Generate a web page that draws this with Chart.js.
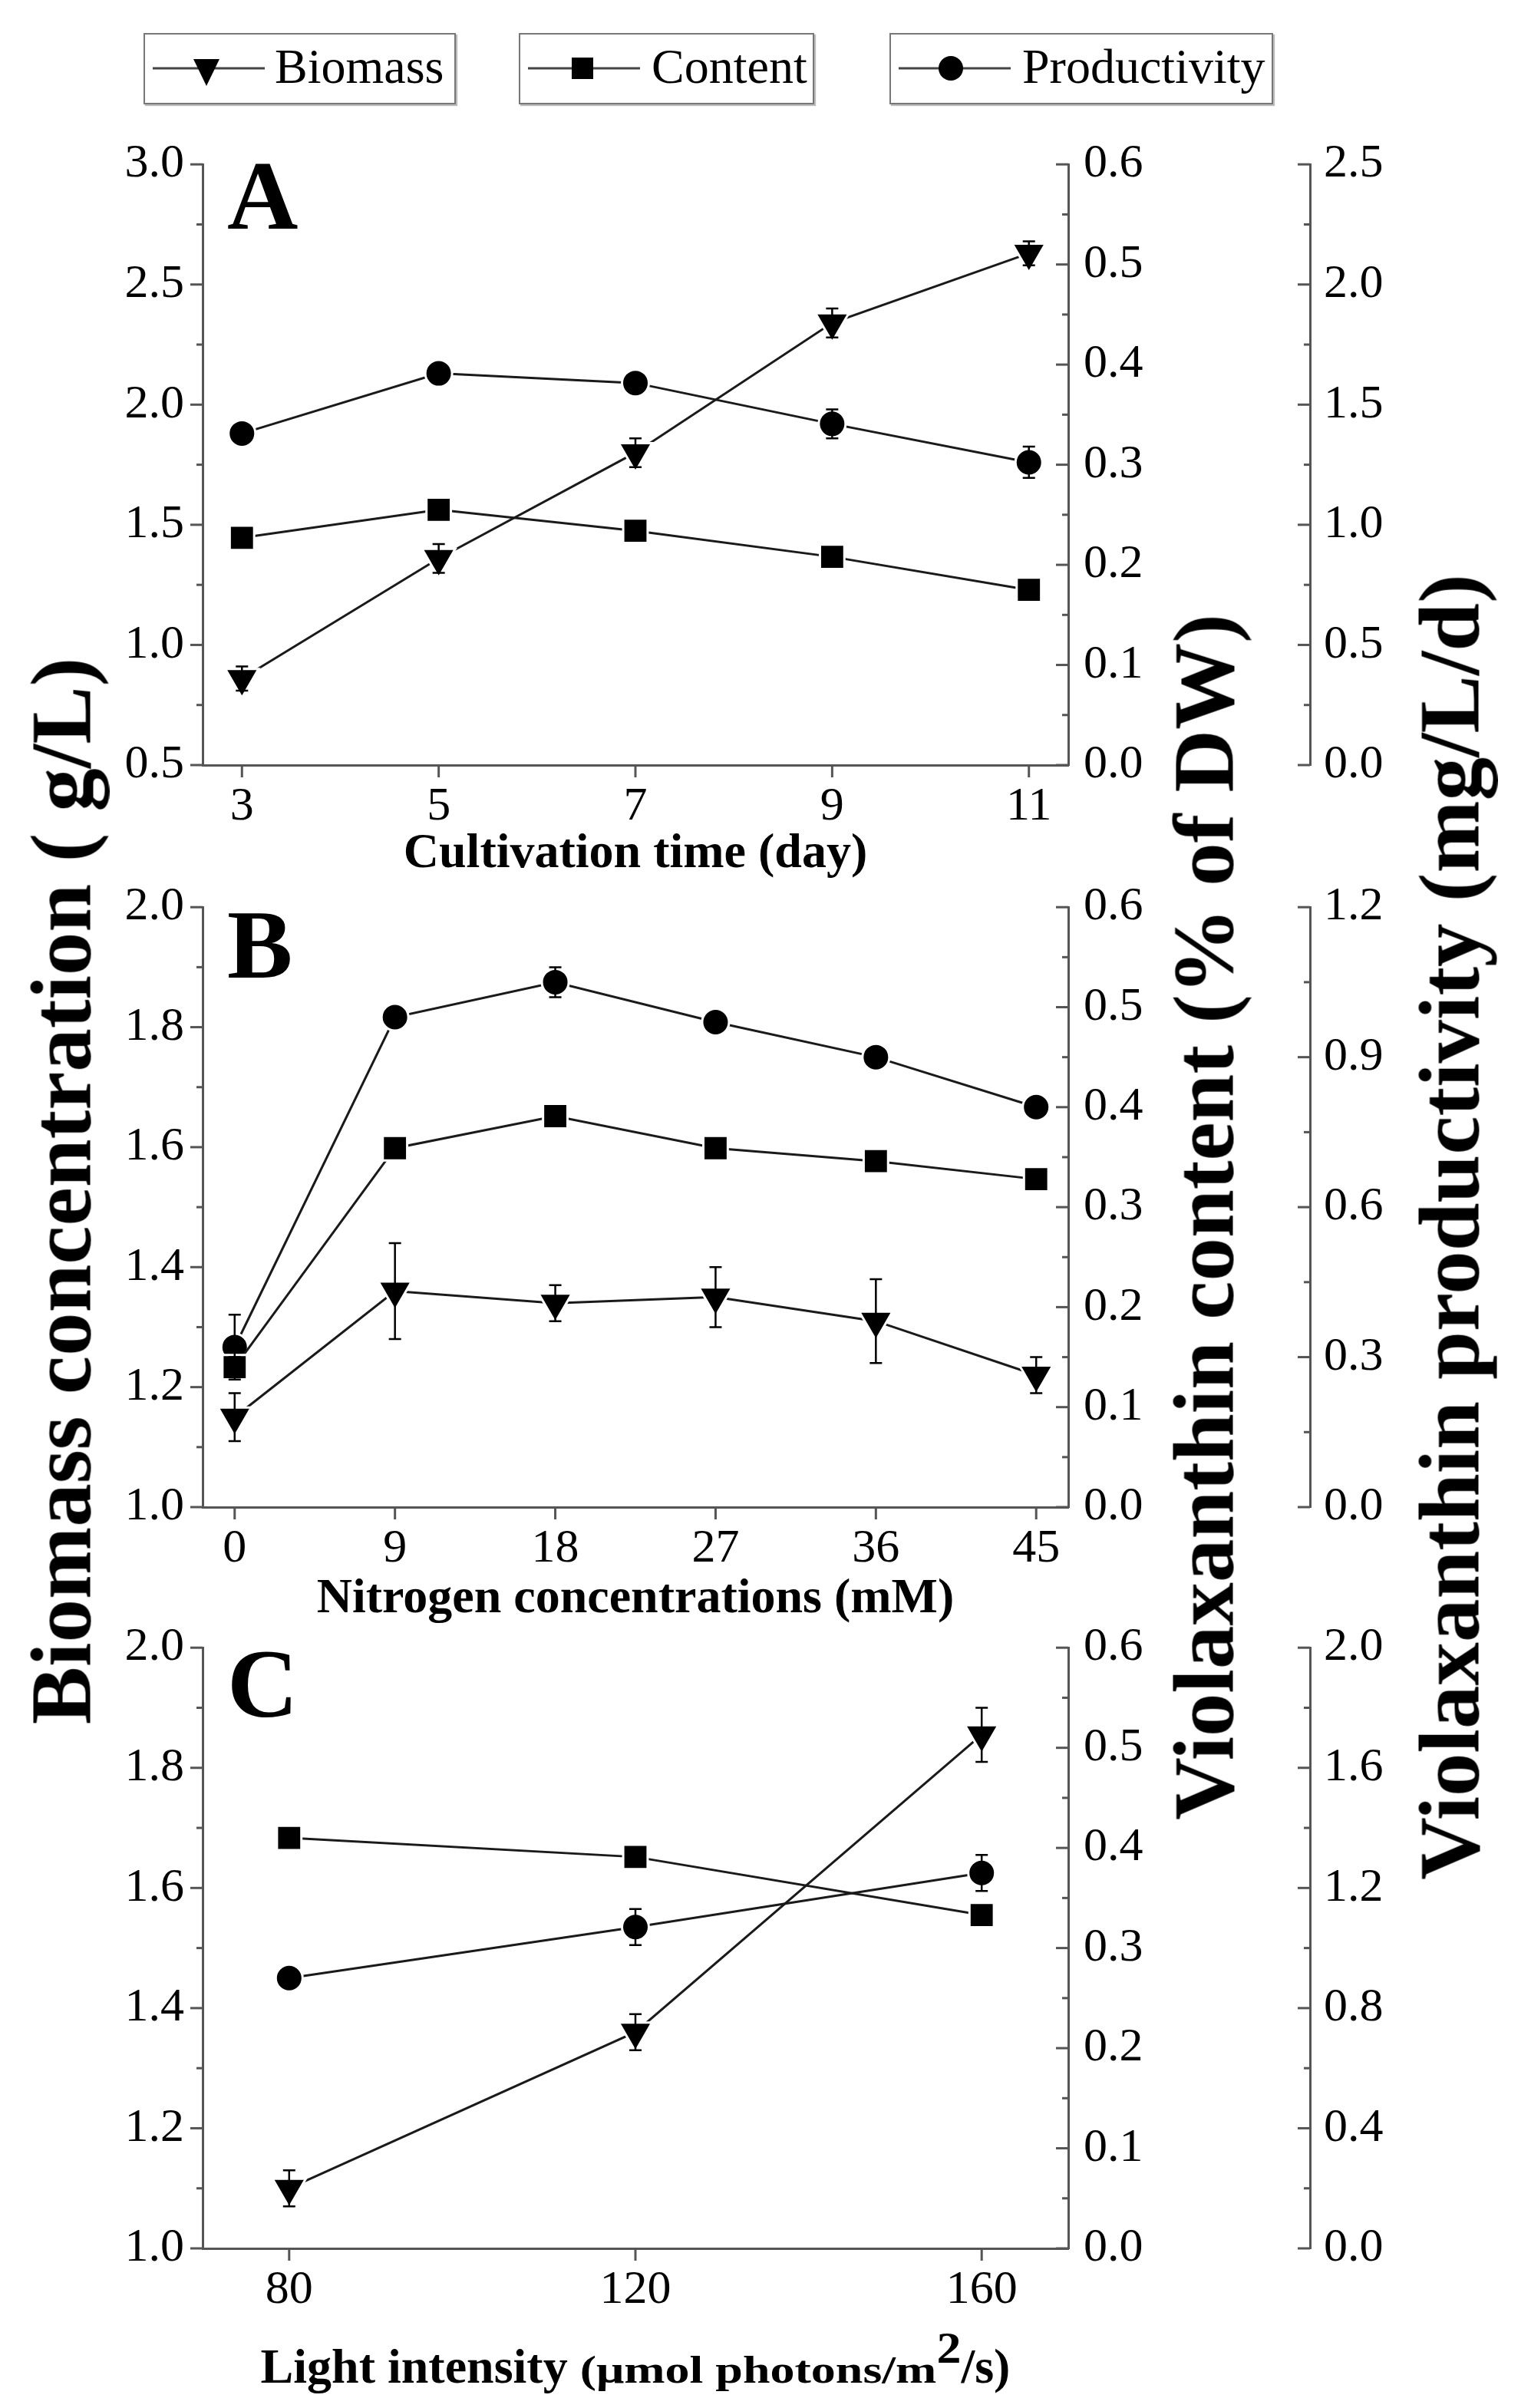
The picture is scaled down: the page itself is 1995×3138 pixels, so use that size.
<!DOCTYPE html>
<html>
<head>
<meta charset="utf-8">
<script src="https://cdn.jsdelivr.net/npm/chart.js@4.4.1/dist/chart.umd.min.js"></script>
<style>
html, body { margin: 0; padding: 0; background: #fff; }
body { width: 1995px; height: 3138px; position: relative; overflow: hidden; font-family: "Liberation Serif", "Times New Roman", serif; }
canvas { position: absolute; left: 0; }
.legend-box { position: absolute; top: 43px; height: 93px; box-sizing: border-box; border: 2px solid #777; box-shadow: 2px 2px 1px #bbb; background: #fff; }
.legend-box svg { position: absolute; left: 8px; top: 0; }
.legend-box span { position: absolute; left: 169px; top: 10px; font-size: 64px; line-height: 1; white-space: nowrap; color: #000; }
.ytitle { position: absolute; font-weight: bold; font-size: 113px; line-height: 1; white-space: nowrap; color: #000; transform: translate(-50%, -50%) rotate(-90deg); }
</style>
</head>
<body>

<div class="legend-box" style="left:187px; width:407px;">
  <svg width="150" height="89"><line x1="2" y1="44" x2="148" y2="44" stroke="#444" stroke-width="3"/><polygon points="55,32 89,32 72,67" fill="#000"/></svg>
  <span>Biomass</span>
</div>
<div class="legend-box" style="left:676px; width:385px;">
  <svg width="150" height="89"><line x1="2" y1="44" x2="148" y2="44" stroke="#444" stroke-width="3"/><rect x="59" y="30" width="28" height="28" fill="#000"/></svg>
  <span style="left:171px">Content</span>
</div>
<div class="legend-box" style="left:1159px; width:500px;">
  <svg width="150" height="89"><line x1="2" y1="44" x2="148" y2="44" stroke="#444" stroke-width="3"/><circle cx="70" cy="44" r="16" fill="#000"/></svg>
  <span style="left:171px">Productivity</span>
</div>

<canvas id="chartA"></canvas>
<canvas id="chartB"></canvas>
<canvas id="chartC"></canvas>

<div class="ytitle" style="left:79px; top:1552px;">Biomass concentration ( g/L)</div>
<div class="ytitle" style="left:1568px; top:1586px;">Violaxanthin content (% of DW)</div>
<div class="ytitle" style="left:1888px; top:1599px;">Violaxanthin productivity (mg/L/d)</div>

<script>
// ---- panel A: cultivation time ----
const daysA = [3, 5, 7, 9, 11];
const biomassA = [0.86, 1.36, 1.80, 2.34, 2.63];
const biomassErrA = [0.05, 0.06, 0.06, 0.06, 0.05];
const contentA = [0.227, 0.255, 0.234, 0.208, 0.175];
const contentErrA = [0, 0, 0, 0, 0];
const prodA = [1.38, 1.63, 1.59, 1.42, 1.26];
const prodErrA = [0.03, 0.03, 0.03, 0.06, 0.065];

// ---- panel B: nitrogen concentration ----
const nitrogenB = [0, 9, 18, 27, 36, 45];
const biomassB = [1.15, 1.36, 1.34, 1.35, 1.31, 1.22];
const biomassErrB = [0.04, 0.08, 0.03, 0.05, 0.07, 0.03];
const contentB = [0.14, 0.359, 0.391, 0.359, 0.346, 0.328];
const contentErrB = [0.01, 0, 0, 0, 0, 0];
const prodB = [0.32, 0.98, 1.05, 0.97, 0.90, 0.80];
const prodErrB = [0.065, 0, 0.03, 0, 0, 0];

// ---- panel C: light intensity ----
const lightC = [80, 120, 160];
const biomassC = [1.10, 1.36, 1.855];
const biomassErrC = [0.03, 0.03, 0.045];
const contentC = [0.41, 0.391, 0.333];
const contentErrC = [0, 0, 0];
const prodC = [0.90, 1.07, 1.25];
const prodErrC = [0.02, 0.06, 0.06];

// ---- tick labels ----
const biomassTicksA = [0.5, 1.0, 1.5, 2.0, 2.5, 3.0];
const biomassTicksBC = [1.0, 1.2, 1.4, 1.6, 1.8, 2.0];
const contentTicks = [0.0, 0.1, 0.2, 0.3, 0.4, 0.5, 0.6];
const prodTicksA = [0.0, 0.5, 1.0, 1.5, 2.0, 2.5];
const prodTicksB = [0.0, 0.3, 0.6, 0.9, 1.2];
const prodTicksC = [0.0, 0.4, 0.8, 1.2, 1.6, 2.0];

const AXIS_COLOR = '#555';
const LINE_COLOR = '#1a1a1a';
const FONT = '"Liberation Serif", "Times New Roman", serif';

// major/minor tick marks, all vertical axes tick to the left
const axisTicks = {
    id: 'axisTicks',
    afterDraw(chart) {
        const ctx = chart.ctx;
        ctx.save();
        ctx.strokeStyle = AXIS_COLOR;
        ctx.lineWidth = 3;
        Object.values(chart.scales).forEach(scale => {
            const vals = scale.ticks.map(t => t.value);
            const minors = scale.isHorizontal() ? [] : vals.slice(1).map((v, i) => (v + vals[i]) / 2);
            const mark = (v, len) => {
                const p = scale.getPixelForValue(v);
                ctx.beginPath();
                if (scale.isHorizontal()) {
                    ctx.moveTo(p, scale.top);
                    ctx.lineTo(p, scale.top + len);
                } else {
                    const x0 = scale.position === 'left' ? scale.right : scale.left;
                    ctx.moveTo(x0, p);
                    ctx.lineTo(x0 - len, p);
                }
                ctx.stroke();
            };
            vals.forEach(v => mark(v, 16));
            minors.forEach(v => mark(v, 8));
        });
        ctx.restore();
    }
};

// vertical error bars with caps, taken from dataset.errors
const errorBars = {
    id: 'errorBars',
    afterDatasetsDraw(chart) {
        const ctx = chart.ctx;
        ctx.save();
        ctx.strokeStyle = '#000';
        ctx.lineWidth = 2.5;
        chart.data.datasets.forEach((ds, di) => {
            const meta = chart.getDatasetMeta(di);
            const yScale = chart.scales[ds.yAxisID];
            meta.data.forEach((pt, i) => {
                const err = ds.errors[i];
                if (!err) return;
                const v = ds.data[i].y;
                const yTop = yScale.getPixelForValue(v + err);
                const yBot = yScale.getPixelForValue(v - err);
                ctx.beginPath();
                ctx.moveTo(pt.x, yTop); ctx.lineTo(pt.x, yBot);
                ctx.moveTo(pt.x - 8, yTop); ctx.lineTo(pt.x + 8, yTop);
                ctx.moveTo(pt.x - 8, yBot); ctx.lineTo(pt.x + 8, yBot);
                ctx.stroke();
            });
        });
        ctx.restore();
    }
};

const panelLetter = {
    id: 'panelLetter',
    afterDraw(chart, args, opts) {
        const ctx = chart.ctx;
        const area = chart.chartArea;
        ctx.save();
        ctx.fillStyle = '#000';
        ctx.font = 'bold 128px ' + FONT;
        ctx.textAlign = 'left';
        ctx.textBaseline = 'alphabetic';
        ctx.fillText(opts.text, area.left + 32, area.top + opts.dy);
        ctx.restore();
    }
};

// x title made of pieces (unit part is squashed, superscript raised)
const richTitle = {
    id: 'richTitle',
    afterDraw(chart, args, opts) {
        if (!opts.parts) return;
        const ctx = chart.ctx;
        const area = chart.chartArea;
        ctx.save();
        ctx.fillStyle = '#000';
        ctx.textAlign = 'left';
        ctx.textBaseline = 'alphabetic';
        ctx.font = 'bold 64px ' + FONT;
        const widths = opts.parts.map(p => ctx.measureText(p.text).width);
        const total = widths.reduce((a, b) => a + b, 0);
        let x = (area.left + area.right) / 2 - total / 2;
        const base = area.bottom + opts.dy;
        opts.parts.forEach((p, i) => {
            ctx.save();
            ctx.translate(x, base - (p.rise || 0));
            ctx.scale(1, p.sy || 1);
            ctx.fillText(p.text, 0, 0);
            ctx.restore();
            x += widths[i];
        });
        ctx.restore();
    }
};

function series(xs, ys) {
    return xs.map((x, i) => ({ x: x, y: ys[i] }));
}

function makePanel(id, p) {
    const canvas = document.getElementById(id);
    const height = 60 + p.plotHeight + p.xAxisHeight;
    canvas.width = 1995;
    canvas.height = height;
    canvas.style.width = '1995px';
    canvas.style.height = height + 'px';
    canvas.style.top = (p.plotTop - 60) + 'px';

    const tickFont = { family: FONT, size: 62 };
    const yAxis = (position, min, max, values, width, pad) => ({
        type: 'linear',
        position: position,
        min: min,
        max: max,
        afterBuildTicks: s => { s.ticks = values.map(v => ({ value: v })); },
        afterFit: s => { s.width = width; },
        grid: { display: true, drawOnChartArea: false, drawTicks: false },
        border: { display: true, color: AXIS_COLOR, width: 3 },
        ticks: { color: '#000', font: tickFont, padding: pad, callback: v => v.toFixed(1) }
    });

    const mk = (label, xs, ys, errs, axis, style, radius, rot) => ({
        label: label,
        data: series(xs, ys),
        errors: errs,
        yAxisID: axis,
        borderColor: LINE_COLOR,
        borderWidth: 3,
        pointStyle: style,
        pointRotation: rot,
        pointRadius: radius,
        pointBackgroundColor: '#000',
        pointBorderColor: '#fff',
        pointBorderWidth: 3,
        tension: 0,
        fill: false
    });

    return new Chart(canvas, {
        type: 'line',
        data: {
            datasets: [
                mk('Biomass', p.xs, p.biomass, p.biomassErr, 'y', 'triangle', 25, 180),
                mk('Content', p.xs, p.content, p.contentErr, 'yc', 'rect', 22.5, 0),
                mk('Productivity', p.xs, p.prod, p.prodErr, 'yp', 'circle', 17.5, 0)
            ]
        },
        options: {
            responsive: false,
            devicePixelRatio: 1,
            animation: false,
            layout: { padding: { top: 60, left: 0, right: 0, bottom: 0 } },
            plugins: {
                legend: { display: false },
                tooltip: { enabled: false },
                panelLetter: { text: p.letter, dy: p.letterDy },
                richTitle: { parts: p.titleParts, dy: p.titleDy }
            },
            scales: {
                x: {
                    type: 'linear',
                    position: 'bottom',
                    min: p.xMin,
                    max: p.xMax,
                    afterBuildTicks: s => { s.ticks = p.xs.map(v => ({ value: v })); },
                    afterFit: s => { s.height = p.xAxisHeight; },
                    grid: { display: true, drawOnChartArea: false, drawTicks: false },
                    border: { display: true, color: AXIS_COLOR, width: 3 },
                    ticks: { color: '#000', font: tickFont, padding: 18, autoSkip: false, maxRotation: 0, callback: v => String(v) },
                    title: {
                        display: !!p.xTitle,
                        text: p.xTitle || '',
                        color: '#000',
                        font: { family: FONT, size: 64, weight: 'bold' },
                        padding: { top: 0, bottom: p.titlePad || 0 }
                    }
                },
                y: yAxis('left', p.bMin, p.bMax, p.bTicks, 264, 24),
                yc: yAxis('right', 0, 0.6, contentTicks, 315, 20),
                yp: yAxis('right', 0, p.pMax, p.pTicks, 288, 18)
            }
        },
        plugins: [axisTicks, errorBars, panelLetter, richTitle]
    });
}

makePanel('chartA', {
    letter: 'A', letterDy: 84, plotTop: 213, plotHeight: 784, xAxisHeight: 170, titlePad: 15,
    xs: daysA, xMin: 2.6, xMax: 11.4, xTitle: 'Cultivation time (day)',
    biomass: biomassA, biomassErr: biomassErrA, content: contentA, contentErr: contentErrA, prod: prodA, prodErr: prodErrA,
    bMin: 0.5, bMax: 3.0, bTicks: biomassTicksA, pMax: 2.5, pTicks: prodTicksA
});

makePanel('chartB', {
    letter: 'B', letterDy: 92, plotTop: 1181, plotHeight: 783, xAxisHeight: 170, titlePad: 11,
    xs: nitrogenB, xMin: -1.8, xMax: 46.8, xTitle: 'Nitrogen concentrations (mM)',
    biomass: biomassB, biomassErr: biomassErrB, content: contentB, contentErr: contentErrB, prod: prodB, prodErr: prodErrB,
    bMin: 1.0, bMax: 2.0, bTicks: biomassTicksBC, pMax: 1.2, pTicks: prodTicksB
});

makePanel('chartC', {
    letter: 'C', letterDy: 90, plotTop: 2146, plotHeight: 784, xAxisHeight: 200,
    titleParts: [
        { text: 'Light intensity ' },
        { text: '(\u03bcmol photons/m', sy: 0.78 },
        { text: '2', sy: 0.9, rise: 26 },
        { text: '/s)' }
    ],
    titleDy: 175,
    xs: lightC, xMin: 70, xMax: 170,
    biomass: biomassC, biomassErr: biomassErrC, content: contentC, contentErr: contentErrC, prod: prodC, prodErr: prodErrC,
    bMin: 1.0, bMax: 2.0, bTicks: biomassTicksBC, pMax: 2.0, pTicks: prodTicksC
});
</script>
</body>
</html>
